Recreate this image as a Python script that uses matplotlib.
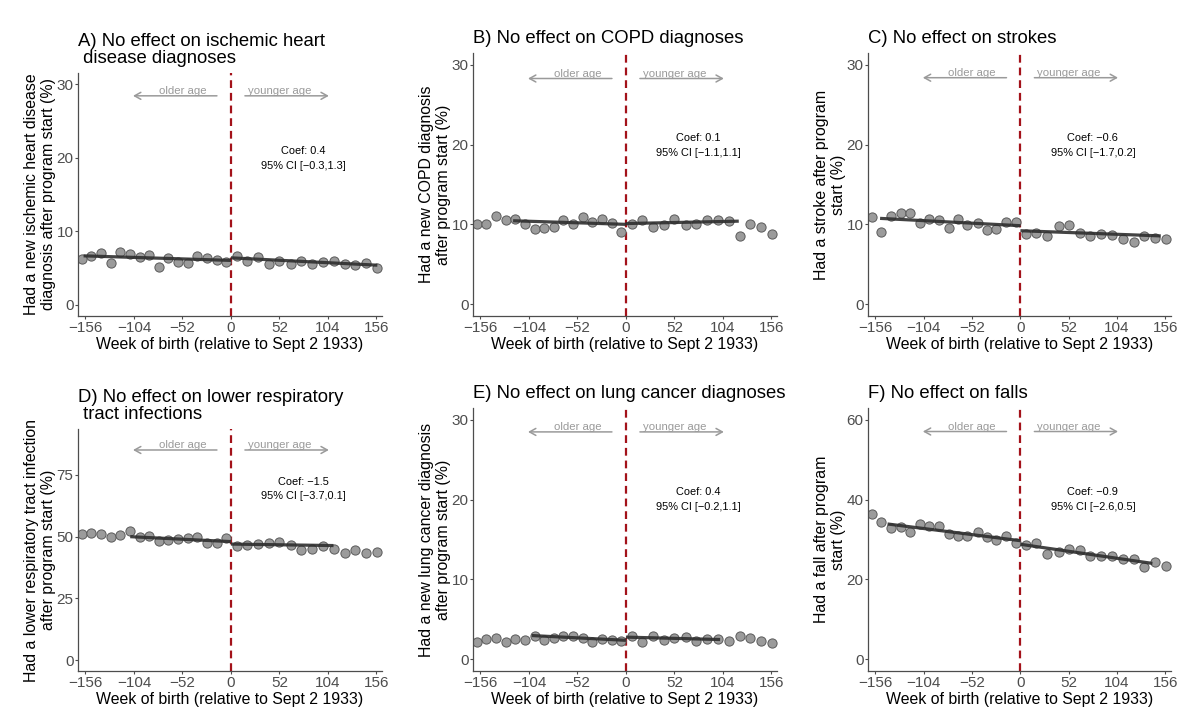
import matplotlib
matplotlib.use("Agg")
import matplotlib.pyplot as plt

plt.rcParams['font.family'] = ['Liberation Sans', 'DejaVu Sans']

# ---- data ----
x_left = [-160, -150, -139, -129, -119, -108, -98, -88, -77, -67, -57, -46, -36, -26, -15, -5]
x_right = [6, 17, 29, 41, 52, 64, 75, 87, 99, 110, 122, 133, 145, 157]

A_left = [6.2, 6.6, 7.0, 5.7, 7.2, 6.9, 6.5, 6.8, 5.2, 6.4, 5.8, 5.7, 6.6, 6.4, 6.1, 5.9]
A_right = [6.7, 6.0, 6.5, 5.6, 6.0, 5.6, 6.0, 5.6, 5.9, 6.0, 5.5, 5.4, 5.7, 5.0]
A_fit_x = [-158, 0, 0, 157]
A_fit_y = [6.67, 6.05, 6.4, 5.4]

B_left = [10.1, 10.1, 11.0, 10.6, 10.7, 10.1, 9.4, 9.5, 9.7, 10.6, 10.1, 10.9, 10.3, 10.7, 10.2, 9.1]
B_right = [10.0, 10.5, 9.7, 9.9, 10.7, 9.9, 10.0, 10.6, 10.5, 10.4, 8.5, 10.1, 9.7, 8.8]
B_fit_x = [-121, 0, 0, 121]
B_fit_y = [10.45, 10.0, 10.1, 10.4]

C_left = [10.9, 9.1, 11.0, 11.4, 11.4, 10.2, 10.7, 10.5, 9.6, 10.7, 9.9, 10.2, 9.3, 9.4, 10.3, 10.3]
C_right = [8.8, 8.9, 8.5, 9.8, 9.9, 8.9, 8.6, 8.8, 8.7, 8.1, 7.8, 8.6, 8.3, 8.1]
C_fit_x = [-151, 0, 0, 151]
C_fit_y = [10.75, 9.83, 9.2, 8.55]

D_left = [50.9, 51.5, 51.1, 49.7, 50.8, 52.2, 49.9, 50.4, 48.4, 48.8, 49.2, 49.3, 50.0, 47.4, 47.4, 49.3]
D_right = [46.1, 46.8, 47.0, 47.4, 48.0, 46.5, 44.7, 45.1, 46.2, 45.0, 43.5, 44.6, 43.2, 43.8]
D_fit_x = [-108, 0, 0, 110]
D_fit_y = [50.0, 48.0, 47.0, 46.4]

E_left = [2.2, 2.5, 2.7, 2.1, 2.5, 2.35, 2.85, 2.45, 2.7, 2.95, 2.95, 2.7, 2.1, 2.5, 2.45, 2.3]
E_right = [2.95, 2.2, 2.9, 2.45, 2.6, 2.75, 2.25, 2.5, 2.5, 2.25, 2.85, 2.6, 2.25, 2.05]
E_fit_x = [-101, 0, 0, 101]
E_fit_y = [2.95, 2.35, 2.75, 2.45]

F_left = [36.5, 34.4, 32.8, 33.2, 31.8, 33.8, 33.3, 33.4, 31.3, 30.8, 30.9, 31.9, 30.6, 29.8, 31.0, 29.1]
F_right = [28.6, 29.0, 26.4, 26.9, 27.7, 27.4, 25.8, 25.9, 25.8, 25.1, 25.0, 23.0, 24.4, 23.3]
F_fit_x = [-143, 0, 0, 142]
F_fit_y = [33.9, 29.7, 28.8, 24.0]

x_ticks = [-156, -104, -52, 0, 52, 104, 156]
x_ticklabels = ["\u2212156", "\u2212104", "\u221252", "0", "52", "104", "156"]

titles = ["A) No effect on ischemic heart\n disease diagnoses",
          "B) No effect on COPD diagnoses",
          "C) No effect on strokes",
          "D) No effect on lower respiratory\n tract infections",
          "E) No effect on lung cancer diagnoses",
          "F) No effect on falls"]
ylabels = ["Had a new ischemic heart disease\ndiagnosis after program start (%)",
           "Had a new COPD diagnosis\nafter program start (%)",
           "Had a stroke after program\nstart (%)",
           "Had a lower respiratory tract infection\nafter program start (%)",
           "Had a new lung cancer diagnosis\nafter program start (%)",
           "Had a fall after program\nstart (%)"]
coef_texts = ["Coef: 0.4\n95% CI [\u22120.3,1.3]",
              "Coef: 0.1\n95% CI [\u22121.1,1.1]",
              "Coef: \u22120.6\n95% CI [\u22121.7,0.2]",
              "Coef: \u22121.5\n95% CI [\u22123.7,0.1]",
              "Coef: 0.4\n95% CI [\u22120.2,1.1]",
              "Coef: \u22120.9\n95% CI [\u22122.6,0.5]"]
y_ticks = [[0, 10, 20, 30], [0, 10, 20, 30], [0, 10, 20, 30],
           [0, 25, 50, 75], [0, 10, 20, 30], [0, 20, 40, 60]]
y_lims = [(-1.5, 31.5), (-1.5, 31.5), (-1.5, 31.5),
          (-4.4, 93.6), (-1.5, 31.5), (-3, 63)]
coef_y = [19.9, 19.9, 19.9, 69.3, 20.0, 40.1]
arrow_y = [28.4, 28.3, 28.4, 85.1, 28.5, 57.1]

lefts_all = [A_left, B_left, C_left, D_left, E_left, F_left]
rights_all = [A_right, B_right, C_right, D_right, E_right, F_right]
fits_x = [A_fit_x, B_fit_x, C_fit_x, D_fit_x, E_fit_x, F_fit_x]
fits_y = [A_fit_y, B_fit_y, C_fit_y, D_fit_y, E_fit_y, F_fit_y]

# ---- layout (figure fractions) ----
W, H = 1200, 728
boxes_px = [(78, 73, 382, 316), (473, 53, 777, 316), (868, 53, 1171, 316),
            (78, 429, 382, 671), (473, 408, 777, 671), (868, 408, 1171, 671)]

fig = plt.figure(figsize=(12, 7.28), dpi=100)
fig.patch.set_facecolor('white')

pt_color = '#9b9b9b'
edge_color = '#5a5a5a'
fit_color = '#2e2e2e'
red = '#a3121a'
grey_txt = '#9a9a9a'
axis_grey = '#4d4d4d'

for i in range(6):
    l, t, r, b = boxes_px[i]
    ax = fig.add_axes([l / W, 1 - b / H, (r - l) / W, (b - t) / H])
    ax.set_xlim(-164, 162)
    ax.set_ylim(*y_lims[i])

    ax.axvline(0, color=red, lw=1.6, ls=(0, (3.5, 2.2)), zorder=1)

    ax.scatter(x_left, lefts_all[i], s=44, c=pt_color, edgecolors=edge_color,
               linewidths=0.7, zorder=2)
    ax.scatter(x_right, rights_all[i], s=44, c=pt_color, edgecolors=edge_color,
               linewidths=0.7, zorder=2)
    fx = fits_x[i]
    fy = fits_y[i]
    ax.plot(fx[:2], fy[:2], color=fit_color, lw=2.3, alpha=0.9, zorder=3,
            solid_capstyle='butt')
    ax.plot(fx[2:], fy[2:], color=fit_color, lw=2.3, alpha=0.9, zorder=3,
            solid_capstyle='butt')

    ay = arrow_y[i]
    arrow_kw = dict(arrowstyle='->,head_length=0.45,head_width=0.25',
                    color=grey_txt, lw=1.1, shrinkA=0, shrinkB=0)
    ax.annotate('', xy=(-105, ay), xytext=(-15, ay), arrowprops=arrow_kw)
    ax.annotate('', xy=(105, ay), xytext=(15, ay), arrowprops=arrow_kw)
    ax.annotate('older age', xy=(-52, ay), xytext=(0, 1.2), textcoords='offset points',
                ha='center', va='baseline', fontsize=8.2, color=grey_txt)
    ax.annotate('younger age', xy=(52, ay), xytext=(0, 1.2), textcoords='offset points',
                ha='center', va='baseline', fontsize=8.2, color=grey_txt)

    ax.text(78, coef_y[i], coef_texts[i], ha='center', va='center',
            fontsize=7.9, color='black', linespacing=1.6)

    ax.set_xticks(x_ticks)
    ax.set_xticklabels(x_ticklabels)
    ax.set_yticks(y_ticks[i])
    ax.tick_params(axis='both', labelsize=11, labelcolor=axis_grey,
                   color=axis_grey, length=2.5, width=0.8, pad=0.8)
    for side in ['top', 'right']:
        ax.spines[side].set_visible(False)
    for side in ['left', 'bottom']:
        ax.spines[side].set_color(axis_grey)
        ax.spines[side].set_linewidth(0.9)

    ax.set_xlabel('Week of birth (relative to Sept 2 1933)', fontsize=11.4, labelpad=1.5)
    ax.set_ylabel(ylabels[i], fontsize=11.4, labelpad=0.5, linespacing=1.12)
    ax.annotate(titles[i], xy=(0, 1), xycoords='axes fraction', xytext=(0, 4),
                textcoords='offset points', ha='left', va='bottom',
                fontsize=13.3, linespacing=1.0)

fig.savefig('out.png', dpi=100, facecolor='white')
